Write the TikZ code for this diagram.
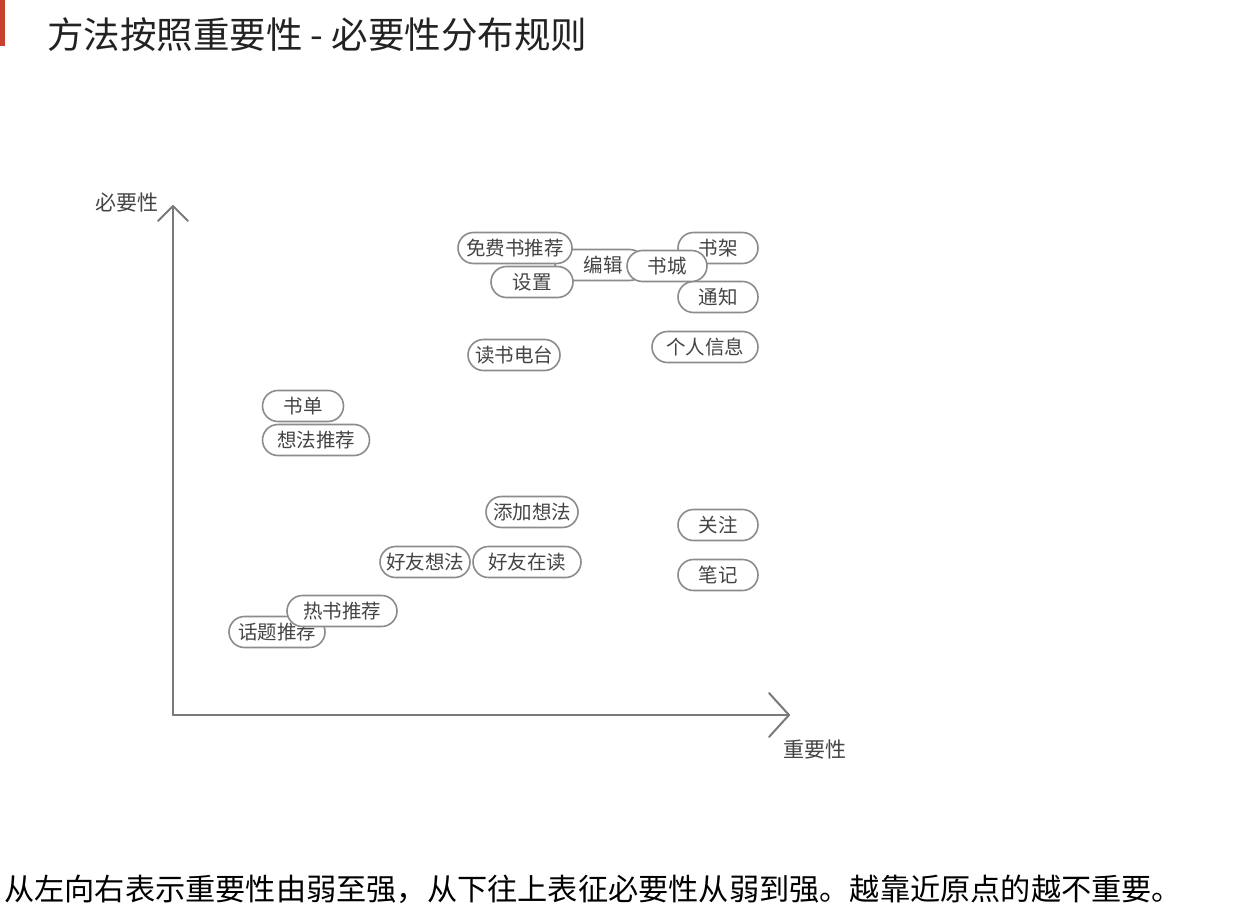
\documentclass[tikz,border=0pt]{standalone}
\usepackage{fontspec}
\usetikzlibrary{calc}
\newfontfamily\cjk{Noto Sans CJK SC}
\definecolor{barred}{HTML}{C8412E}
\definecolor{titlegray}{HTML}{222222}
\definecolor{axisgray}{HTML}{7A7A7A}
\definecolor{pillgray}{HTML}{8C8C8C}
\definecolor{textgray}{HTML}{444444}
\begin{document}
\begin{tikzpicture}[x=1pt,y=-1pt,
  pill/.style={draw=pillgray, line width=1.6pt, fill=white, rounded corners=15.5pt,
    minimum height=31pt, inner sep=0pt, text=textgray,
    font=\cjk\fontsize{19.5}{21}\selectfont},
  axislabel/.style={inner sep=0pt, text=textgray, font=\cjk\fontsize{21}{23}\selectfont},
  axis/.style={draw=axisgray, line width=2pt, line cap=round, line join=round}]
\useasboundingbox (0,0) rectangle (1236,912);
\fill[white] (0,0) rectangle (1236,912);

% heading
\fill[barred] (0,0) rectangle (5,46);
\node[anchor=west, inner sep=0pt, text=titlegray, font=\cjk\fontsize{36.5}{42}\selectfont]
  (title) at (47,35) {方法按照重要性 - 必要性分布规则};

% axes
\coordinate (origin) at (173,715);
\coordinate (ytop) at (173,206);
\coordinate (xend) at (789,715);
\draw[axis] (origin) -- (ytop);
\draw[axis] (origin) -- (xend);
\draw[axis] ($(ytop)+(-15,15)$) -- (ytop) -- ($(ytop)+(15,15)$);
\draw[axis] ($(xend)+(-20,-22)$) -- (xend) -- ($(xend)+(-20,22)$);
\node[axislabel] (ylab) at (127,203) {必要性};
\node[axislabel] (xlab) at (815,750) {重要性};

% items, back to front
\node[pill, minimum width=90pt] (bianji) at (600,265) {\hspace*{6pt}编辑};
\node[pill, minimum width=114pt] (mianfei) at (515,248) {免费书推荐};
\node[pill, minimum width=82pt] (shezhi) at (532,282) {设置};
\node[pill, minimum width=80pt] (shujia) at (718,248) {书架};
\node[pill, minimum width=80pt] (tongzhi) at (718,297) {通知};
\node[pill, minimum width=80pt] (shucheng) at (667,266) {书城};
\node[pill, minimum width=106pt] (geren) at (705,347) {个人信息};
\node[pill, minimum width=92pt] (diantai) at (514,355) {读书电台};
\node[pill, minimum width=81pt] (shudan) at (303,406) {书单};
\node[pill, minimum width=107pt] (xiangfa) at (316,440) {想法推荐};
\node[pill, minimum width=92pt] (tianjia) at (532,512) {添加想法};
\node[pill, minimum width=80pt] (guanzhu) at (718,525) {关注};
\node[pill, minimum width=90pt] (haoyouxf) at (425,562) {好友想法};
\node[pill, minimum width=108pt] (haoyouzd) at (527,562) {好友在读};
\node[pill, minimum width=80pt] (biji) at (718,575) {笔记};
\node[pill, minimum width=96pt] (huati) at (277,632) {话题推荐};
\node[pill, minimum width=110pt] (reshu) at (342,611) {热书推荐};

% caption
\node[anchor=west, inner sep=0pt, text=black, font=\cjk\fontsize{30.2}{35}\selectfont]
  (caption) at (4,889) {从左向右表示重要性由弱至强，从下往上表征必要性从弱到强。越靠近原点的越不重要。};
\end{tikzpicture}
\end{document}
